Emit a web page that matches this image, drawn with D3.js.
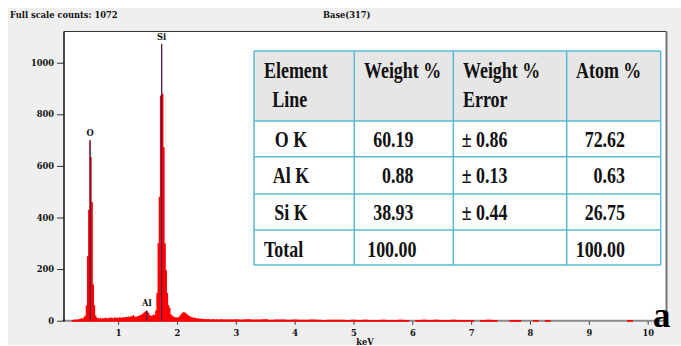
<!DOCTYPE html>
<html>
<head>
<meta charset="utf-8">
<script src="https://cdn.jsdelivr.net/npm/d3@7/dist/d3.min.js"></script>
<style>
    body { margin: 0; background: #fff; }
    .lbl { font-family: "DejaVu Serif"; font-weight: bold; font-size: 8.3px; fill: #111; }
    .axis text { font-family: "DejaVu Serif"; font-weight: bold; font-size: 8.3px; fill: #111; }
    .axis line { stroke: #333; }
    .axis path { display: none; }
    .cell { font-family: "Liberation Serif"; font-weight: bold; font-size: 23px; fill: #111; }
</style>
</head>
<body>
<div id="chart"></div>
<script>
// spectrum counts, 0.10 - 2.98 keV, 0.02 keV channels
var lowStart = 0.10, lowStep = 0.02;
var lowCounts = [
    0, 0, 0, 0, 0,
    0, 3, 4, 5, 4,
    6, 5, 7, 8, 10,
    9, 14, 20, 60, 250,
    430, 699, 635, 460, 140,
    60, 20, 12, 10, 9,
    11, 8, 10, 9, 12,
    10, 9, 11, 10, 12,
    11, 9, 13, 11, 12,
    10, 13, 12, 11, 14,
    12, 13, 15, 14, 16,
    15, 17, 18, 22, 16,
    15, 16, 18, 20, 22,
    24, 28, 32, 36, 38,
    36, 30, 22, 18, 20,
    24, 22, 40, 107, 300,
    480, 873, 1072, 880, 673,
    300, 196, 107, 60, 50,
    24, 20, 16, 14, 12,
    12, 13, 16, 22, 28,
    32, 34, 31, 28, 24,
    20, 17, 14, 13, 11,
    12, 10, 9, 10, 8,
    9, 8, 7, 8, 6,
    7, 6, 7, 6, 5,
    6, 7, 5, 6, 6,
    5, 6, 5, 7, 5,
    6, 5, 6, 5, 5,
    6, 5, 5, 6, 5
];
// 3.0 - 10.3 keV, 0.1 keV channels
var highStart = 3.0, highStep = 0.1;
var highCounts = [
    6, 5, 6, 5, 5, 6, 4, 5, 5, 4,
    5, 4, 4, 5, 4, 3, 4, 4, 4, 3,
    4, 3, 4, 3, 3, 4, 3, 3, 4, 3,
    0, 3, 4, 3, 4, 3, 3, 4, 3, 3,
    3, 0, 3, 4, 3, 0, 0, 3, 3, 0,
    0, 3, 0, 3, 0, 0, 0, 0, 0, 0,
    0, 0, 0, 0, 0, 0, 0, 3, 0, 0,
    0, 0, 0, 0
];

var peakNames = ["O", "Al", "Si"];
var peakEnergy = [0.525, 1.487, 1.74];
var peakHeight = [699, 40, 1072];

var yTicks = [0, 200, 400, 600, 800, 1000];
var xTicks = [1, 2, 3, 4, 5, 6, 7, 8, 9, 10];

var tableHeader = [["Element", "Line"], ["Weight %"], ["Weight %", "Error"], ["Atom %"]];
var tableElement = ["O K", "Al K", "Si K", "Total"];
var tableWeight = ["60.19", "0.88", "38.93", "100.00"];
var tableError = ["\u00b1 0.86", "\u00b1 0.13", "\u00b1 0.44", ""];
var tableAtom = ["72.62", "0.63", "26.75", "100.00"];

var W = 681, H = 346;
var svg = d3.select("#chart").append("svg")
    .attr("width", W)
    .attr("height", H);

// gray panel + white plot area
svg.append("rect").attr("x", 8).attr("y", 8).attr("width", W - 8).attr("height", 337).attr("fill", "#efefef");

var plot = { left: 64, right: 666.5, top: 31.5, bottom: 320.7 };
svg.append("rect")
    .attr("x", plot.left).attr("y", plot.top)
    .attr("width", plot.right - plot.left).attr("height", plot.bottom - plot.top)
    .attr("fill", "#fff");

var x = d3.scaleLinear().domain([0.08, 10.32]).range([plot.left, plot.right]);
var y = d3.scaleLinear().domain([0, 1121]).range([plot.bottom, plot.top]);

// header texts
svg.append("text").attr("class", "lbl").attr("x", 10).attr("y", 17.5).text("Full scale counts: 1072");
svg.append("text").attr("class", "lbl").attr("x", 323).attr("y", 17.5).text("Base(317)");

// axes
svg.append("g")
    .attr("class", "axis")
    .attr("transform", "translate(" + plot.left + ",0)")
    .call(d3.axisLeft(y).tickValues(yTicks).tickFormat(d3.format("d")).tickSize(7).tickPadding(3));

svg.append("g")
    .attr("class", "axis")
    .attr("transform", "translate(0," + plot.bottom + ")")
    .call(d3.axisBottom(x).tickValues(xTicks).tickSize(4).tickPadding(5));

svg.append("text").attr("class", "lbl")
    .attr("x", 365).attr("y", 344.5).attr("text-anchor", "middle").text("keV");

// frame
svg.append("line").attr("x1", plot.left).attr("x2", plot.right).attr("y1", plot.top).attr("y2", plot.top)
    .attr("stroke", "#333").attr("stroke-width", 1);
svg.append("line").attr("x1", plot.right).attr("x2", plot.right).attr("y1", plot.top).attr("y2", plot.bottom + 1)
    .attr("stroke", "#777").attr("stroke-width", 2);
svg.append("line").attr("x1", plot.left - 2).attr("x2", plot.right).attr("y1", plot.bottom).attr("y2", plot.bottom)
    .attr("stroke", "#8a8a8a").attr("stroke-width", 2);
svg.append("line").attr("x1", plot.left).attr("x2", plot.left).attr("y1", plot.top).attr("y2", plot.bottom + 1)
    .attr("stroke", "#111").attr("stroke-width", 1.5);

// spectrum
var spectrum = [];
lowCounts.forEach(function (c, i) {
    spectrum.push({ e: lowStart + i * lowStep, c: c });
});
highCounts.forEach(function (c, i) {
    spectrum.push({ e: highStart + i * highStep, c: c });
});

var area = d3.area()
    .curve(d3.curveStep)
    .x(function (d) { return x(d.e); })
    .y0(function (d) { return d.c > 0 ? y(0) + 1 : y(0); })
    .y1(function (d) { return y(d.c); });

svg.append("path")
    .datum(spectrum)
    .attr("d", area)
    .attr("fill", "#ff0000");

// peak markers
peakNames.forEach(function (name, i) {
    svg.append("line")
        .attr("x1", x(peakEnergy[i])).attr("x2", x(peakEnergy[i]))
        .attr("y1", y(0)).attr("y2", y(peakHeight[i]))
        .attr("stroke", "#22225e").attr("stroke-width", 1);
    svg.append("text").attr("class", "lbl")
        .attr("x", x(peakEnergy[i])).attr("y", y(peakHeight[i]) - 4)
        .attr("text-anchor", "middle")
        .text(name);
});

// composition table
var colX = [254, 354.3, 453.3, 566.7, 660.7];
var rowY = [51, 121, 156.7, 194, 230, 265];
var tbl = svg.append("g");

tbl.append("rect")
    .attr("x", colX[0]).attr("y", rowY[0])
    .attr("width", colX[4] - colX[0]).attr("height", rowY[1] - rowY[0])
    .attr("fill", "#e6e6e6");
tbl.append("rect")
    .attr("x", colX[0]).attr("y", rowY[1])
    .attr("width", colX[4] - colX[0]).attr("height", rowY[5] - rowY[1])
    .attr("fill", "#fff");

rowY.forEach(function (ry) {
    tbl.append("line").attr("x1", colX[0]).attr("x2", colX[4]).attr("y1", ry).attr("y2", ry)
        .attr("stroke", "#5bb9d3").attr("stroke-width", 1.5);
});
colX.forEach(function (cx) {
    tbl.append("line").attr("x1", cx).attr("x2", cx).attr("y1", rowY[0]).attr("y2", rowY[5])
        .attr("stroke", "#5bb9d3").attr("stroke-width", 1.5);
});

function cellText(str, tx, ty, anchor) {
    tbl.append("text")
        .attr("class", "cell")
        .attr("transform", "translate(" + tx + "," + ty + ") scale(0.78,1)")
        .attr("text-anchor", anchor)
        .text(str);
}

// header cells
var headX = [264, 364, 463, 576];
tableHeader.forEach(function (lines, j) {
    lines.forEach(function (s, k) {
        var hx = headX[j];
        if (j == 0 && k == 1) hx = 272.3;
        cellText(s, hx, 77.5 + k * 29.5, "start");
    });
});

// body cells
var bodyY = [146.5, 182.7, 220, 256.7];
tableElement.forEach(function (s, i) {
    if (s == "Total") cellText(s, 264, bodyY[i], "start");
    else cellText(s, 291, bodyY[i], "middle");
    cellText(tableWeight[i], tableWeight[i] == "100.00" ? 416.5 : 413.5, bodyY[i], "end");
    if (tableError[i] != "") cellText(tableError[i], 461.7, bodyY[i], "start");
    cellText(tableAtom[i], 625, bodyY[i], "end");
});

// panel letter
svg.append("text")
    .attr("x", 653).attr("y", 327)
    .attr("font-family", "Liberation Serif").attr("font-weight", "bold").attr("font-size", 35)
    .attr("fill", "#000")
    .text("a");
</script>
</body>
</html>
